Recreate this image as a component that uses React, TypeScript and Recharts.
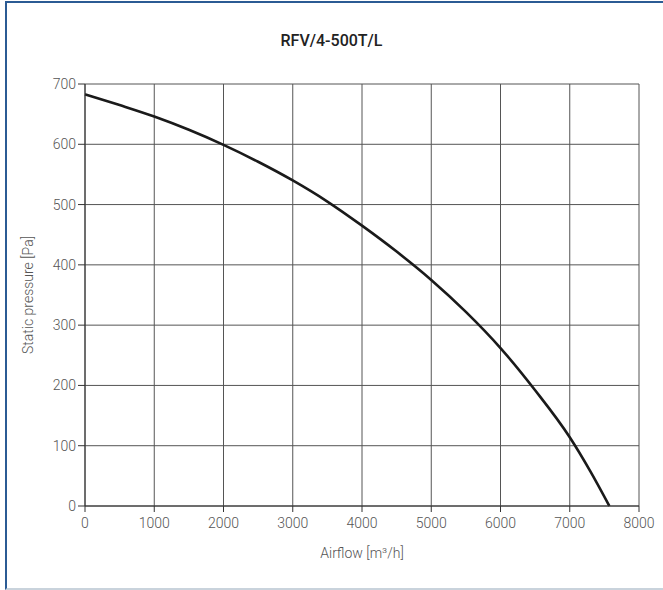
import React from 'react';
import { LineChart, Line, XAxis, YAxis, CartesianGrid } from 'recharts';

const airflow = [0, 500, 1000, 1500, 2000, 2500, 3000, 3500, 4000, 4500, 5000, 5500, 6000, 6500, 7000, 7300, 7572];
const pressure = [683, 665, 646, 624, 599, 571, 540, 505, 465, 422, 375, 322, 262, 192, 114, 57, 0];
const xTicks = [0, 1000, 2000, 3000, 4000, 5000, 6000, 7000, 8000];
const yTicks = [0, 100, 200, 300, 400, 500, 600, 700];

const data = airflow.map((q, i) => ({ q, p: pressure[i] }));

const font = 'Roboto, "Noto Sans", sans-serif';
const tickStyle = { fill: '#555', fontSize: 14, fontFamily: font, fontWeight: 300 };

const App: React.FC = () => (
  <div style={{ position: 'absolute', left: 0, top: 0, width: 663, height: 590, background: '#fff', fontFamily: font }}>
    <div style={{ position: 'absolute', left: 5, top: 1, width: 670, height: 585, borderLeft: '2px solid #2b5b94', borderTop: '2px solid #2b5b94', borderBottom: '2px solid #c9d3dc' }} />
    <div style={{ position: 'absolute', left: 0, width: 663, top: 31, textAlign: 'center', fontSize: 16, fontWeight: 500, color: '#222' }}>
      RFV/4-500T/L
    </div>
    <LineChart width={663} height={590} data={data} margin={{ top: 84, right: 24, bottom: 28, left: 25 }} style={{ position: 'absolute', left: 0, top: 0 }}>
      <CartesianGrid stroke="#555" strokeWidth={1} />
      <XAxis
        dataKey="q"
        type="number"
        domain={[0, 8000]}
        ticks={xTicks}
        height={56}
        stroke="#333"
        tickSize={6}
        tickMargin={6}
        tick={tickStyle}
        label={{ value: 'Airflow [m³/h]', position: 'insideBottom', offset: 4, ...tickStyle }}
      />
      <YAxis
        type="number"
        domain={[0, 700]}
        ticks={yTicks}
        width={60}
        stroke="#333"
        tickSize={7}
        tickMargin={2}
        tick={tickStyle}
        label={{ value: 'Static pressure [Pa]', angle: -90, position: 'insideLeft', offset: 3, ...tickStyle, style: { textAnchor: 'middle' } }}
      />
      <Line type="monotone" dataKey="p" stroke="#1a1a1a" strokeWidth={2.6} dot={false} isAnimationActive={false} />
    </LineChart>
  </div>
);

export default App;
